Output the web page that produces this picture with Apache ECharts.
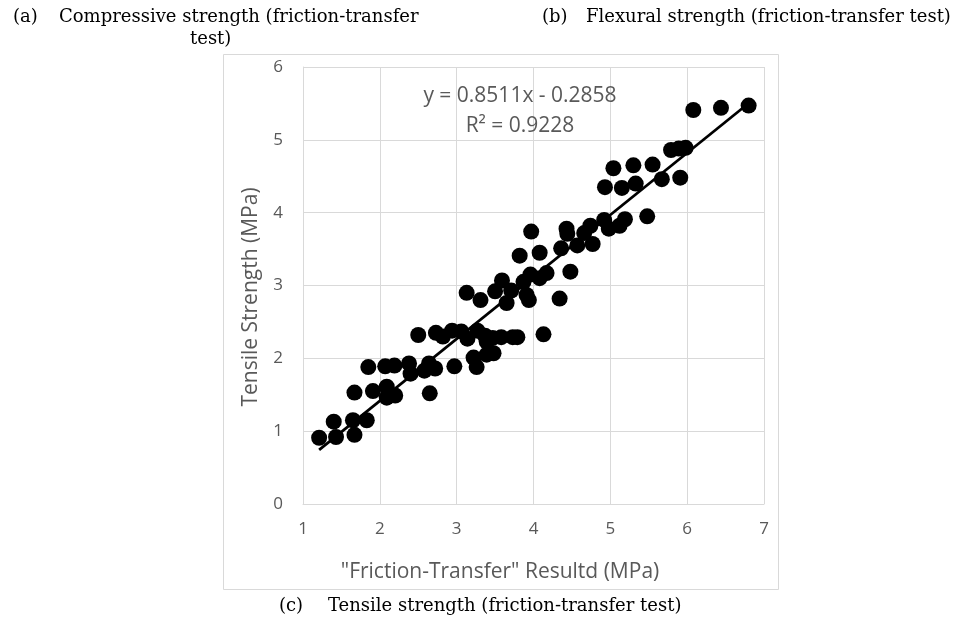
<!DOCTYPE html>
<html><head><meta charset="utf-8">
<script src="https://cdn.jsdelivr.net/npm/echarts@6/dist/echarts.min.js"></script>
<style>html,body{margin:0;padding:0;background:#fff}#c{width:958px;height:619px}</style>
</head><body><div id="c"></div>
<script>
const frictionX = [1.21,1.40,1.43,1.67,1.65,1.67,1.83,1.85,1.91,2.07,2.09,2.09,2.20,2.19,2.38,2.40,2.50,2.58,2.64,2.65,2.72,2.73,2.82,2.94,2.97,3.06,3.13,3.14,3.22,3.26,3.27,3.31,3.37,3.39,3.39,3.48,3.47,3.50,3.58,3.59,3.65,3.71,3.73,3.79,3.82,3.87,3.91,3.94,3.97,3.96,4.08,4.08,4.17,4.13,4.34,4.36,4.43,4.44,4.48,4.57,4.66,4.74,4.77,4.93,4.92,4.98,5.04,5.12,5.15,5.19,5.30,5.33,5.48,5.55,5.67,5.79,5.89,5.91,5.98,6.08,6.44,6.80];
const tensileY = [0.91,1.13,0.92,0.95,1.15,1.53,1.15,1.88,1.55,1.89,1.61,1.46,1.49,1.90,1.93,1.79,2.32,1.83,1.93,1.52,1.86,2.35,2.30,2.38,1.89,2.37,2.90,2.27,2.01,1.88,2.38,2.80,2.31,2.05,2.23,2.07,2.28,2.92,2.29,3.07,2.76,2.93,2.29,2.29,3.41,3.05,2.87,2.80,3.74,3.15,3.45,3.10,3.17,2.33,2.82,3.51,3.78,3.71,3.19,3.55,3.72,3.82,3.57,4.35,3.90,3.78,4.61,3.82,4.34,3.91,4.65,4.40,3.95,4.66,4.46,4.86,4.88,4.48,4.89,5.41,5.44,5.47];
const trendSlope = 0.8511;
const trendIntercept = -0.2858;
const trendXRange = [1.21, 6.80];
const xTicks = [1,2,3,4,5,6,7];
const yTicks = [0,1,2,3,4,5,6];
const xTitle = '"Friction-Transfer" Resultd (MPa)';
const yTitle = 'Tensile Strength (MPa)';
const equationText = 'y = 0.8511x - 0.2858';
const r2Text = 'R² = 0.9228';
const captionLabels = ['(a)', '(b)', '(c)'];
const captionTexts = ['Compressive strength (friction-transfer', 'Flexural strength (friction-transfer test)', 'Tensile strength (friction-transfer test)'];
const captionAWrap = 'test)';

const points = frictionX.map((x,i)=>[x, tensileY[i]]);
const trend = trendXRange.map(x=>[x, trendSlope*x + trendIntercept]);

const chart = echarts.init(document.getElementById('c'), null, {renderer:'canvas'});
const capFont = '18px "DejaVu Serif", serif';
const axFont = '"Open Sans"';
function cap(text, x, y){ return {type:'text', style:{text:text, x:x, y:y, fill:'#000', font:capFont, textVerticalAlign:'middle'}}; }
chart.setOption({
  animation:false,
  backgroundColor:'#fff',
  grid:{left:303, right:194, top:67, bottom:115},
  xAxis:{type:'value', min:xTicks[0], max:xTicks[xTicks.length-1], interval:1,
    axisLine:{show:true, lineStyle:{color:'#d9d9d9', width:1}},
    axisTick:{show:false},
    axisLabel:{color:'#595959', fontSize:17, fontFamily:axFont, margin:17},
    splitLine:{show:true, lineStyle:{color:'#d9d9d9', width:1}}},
  yAxis:{type:'value', min:yTicks[0], max:yTicks[yTicks.length-1], interval:1,
    axisLine:{show:true, lineStyle:{color:'#d9d9d9', width:1}},
    axisTick:{show:false},
    axisLabel:{color:'#595959', fontSize:17, fontFamily:axFont, margin:20},
    splitLine:{show:true, lineStyle:{color:'#d9d9d9', width:1}}},
  series:[
    {type:'scatter', data:points, symbol:'circle', symbolSize:16,
      itemStyle:{color:'#000', opacity:1}, z:2},
    {type:'line', data:trend, symbol:'none', lineStyle:{color:'#000', width:2.75}, z:3}
  ],
  graphic:[
    {type:'rect', shape:{x:223.5, y:54.5, width:555, height:535}, style:{fill:null, stroke:'#d9d9d9', lineWidth:1}, z:-1},
    {type:'text', style:{text:equationText, x:520, y:96, fill:'#595959', font:'21px ' + axFont, textAlign:'center', textVerticalAlign:'middle'}, z:10},
    {type:'text', style:{text:r2Text, x:520, y:126, fill:'#595959', font:'21px ' + axFont, textAlign:'center', textVerticalAlign:'middle'}, z:10},
    {type:'text', style:{text:xTitle, x:500, y:572, fill:'#595959', font:'21px ' + axFont, textAlign:'center', textVerticalAlign:'middle'}},
    {type:'text', rotation:Math.PI/2, x:251, y:297, style:{text:yTitle, x:0, y:0, fill:'#595959', font:'21px ' + axFont, textAlign:'center', textVerticalAlign:'middle'}},
    cap(captionLabels[0], 13, 17), cap(captionTexts[0], 59, 17), cap(captionAWrap, 190, 39),
    cap(captionLabels[1], 542, 17), cap(captionTexts[1], 586, 17),
    cap(captionLabels[2], 279, 606), cap(captionTexts[2], 328, 606)
  ]
});
</script></body></html>
